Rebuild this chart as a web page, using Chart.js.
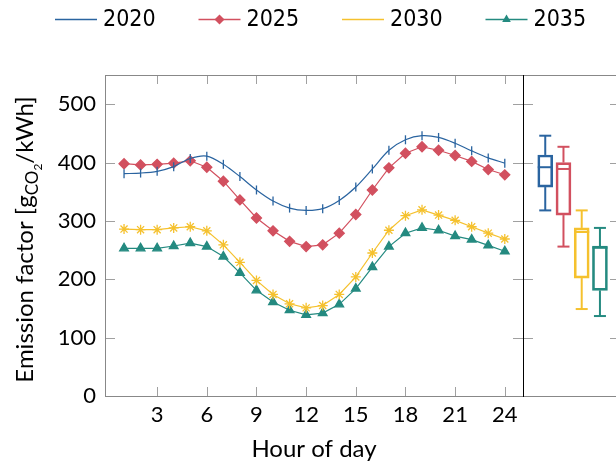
<!DOCTYPE html>
<html>
<head>
<meta charset="utf-8">
<script src="https://cdn.jsdelivr.net/npm/chart.js@4.4.1/dist/chart.umd.min.js"></script>
<style>
    html, body { margin: 0; padding: 0; background: #fff; overflow: hidden; }
    #wrap { position: relative; width: 616px; height: 464px; overflow: hidden; }
    #lineChart { position: absolute; left: 0; top: 0; }
    #boxChart { position: absolute; left: 523px; top: 0; }
</style>
</head>
<body>
<div id="wrap">
    <canvas id="lineChart" width="616" height="464"></canvas>
    <canvas id="boxChart" width="100" height="464"></canvas>
</div>
<script>
const hours = [1, 2, 3, 4, 5, 6, 7, 8, 9, 10, 11, 12, 13, 14, 15, 16, 17, 18, 19, 20, 21, 22, 23, 24];
const ef2020 = [381, 382, 385, 393, 407, 411, 397, 376, 353, 334, 322, 318, 321, 335, 358, 389, 421, 439, 446, 443, 433, 420, 408, 399];
const ef2025 = [398, 396, 397, 399, 403, 392, 368, 336, 305, 283, 265, 256, 259, 279, 311, 353, 391, 416, 427, 421, 412, 402, 388, 379];
const ef2030 = [286, 285, 285, 288, 290, 283, 259, 229, 198, 174, 158, 151, 155, 174, 204, 245, 284, 309, 319, 310, 301, 290, 279, 269];
const ef2035 = [253, 253, 253, 257, 262, 256, 239, 211, 181, 161, 147, 139, 142, 157, 184, 221, 256, 279, 288, 284, 274, 268, 258, 248];

const years = ["2020", "2025", "2030", "2035"];
const boxPos = [1, 2, 3, 4];
const boxMin = [318, 256, 149, 137];
const boxQ1 = [358, 310, 202, 181];
const boxMed = [392, 389, 281, 254];
const boxQ3 = [413, 400, 288, 257];
const boxMax = [446, 427, 318, 288];

const xTicks = [3, 6, 9, 12, 15, 18, 21, 24];
const yTicks = [0, 100, 200, 300, 400, 500];

const colors = ["#2a64a0", "#d2505f", "#f5c12e", "#248a80"];
const markers = [
    { pointStyle: "line", radius: 4.5, rotation: 90 },
    { pointStyle: "rectRot", radius: 5, rotation: 0 },
    { pointStyle: "star", radius: 5, rotation: 0 },
    { pointStyle: "triangle", radius: 5, rotation: 0 }
];
const FONT = "Lato";
const LEGEND_FONT = "'Liberation Sans Narrow', 'DejaVu Sans Condensed', Lato";

function series(i, values, tension) {
    return {
        label: years[i],
        data: hours.map((h, k) => ({ x: h, y: values[k] })),
        borderColor: colors[i],
        backgroundColor: colors[i],
        borderWidth: 1.2,
        tension: tension,
        pointStyle: markers[i].pointStyle,
        pointRadius: markers[i].radius,
        pointRotation: markers[i].rotation,
        pointBorderWidth: 1.3,
        pointBorderColor: colors[i],
        pointBackgroundColor: colors[i]
    };
}

function strokeLine(ctx, x1, y1, x2, y2) {
    ctx.beginPath();
    ctx.moveTo(x1, y1);
    ctx.lineTo(x2, y2);
    ctx.stroke();
}

// inward ticks and frame, pgfplots style
const frameLine = {
    id: "frameLine",
    afterDraw(chart) {
        const { ctx, chartArea, scales } = chart;
        const { left, right, top, bottom } = chartArea;
        const isBox = chart.canvas.id === "boxChart";
        ctx.save();
        ctx.lineWidth = 1;
        ctx.strokeStyle = "#a0a0a0";
        if (!isBox) {
            xTicks.forEach(v => {
                const px = Math.round(scales.x.getPixelForValue(v)) + 0.5;
                strokeLine(ctx, px, bottom, px, bottom - 9);
                strokeLine(ctx, px, top, px, top + 9);
            });
        }
        yTicks.forEach(v => {
            const py = Math.round(scales.y.getPixelForValue(v)) + 0.5;
            strokeLine(ctx, left, py, left + 10, py);
            strokeLine(ctx, right, py, right - 10, py);
        });
        ctx.strokeStyle = "#888888";
        strokeLine(ctx, left, top + 0.5, right, top + 0.5);
        strokeLine(ctx, left, bottom + 0.5, right, bottom + 0.5);
        if (isBox) {
            strokeLine(ctx, right - 0.5, top, right - 0.5, bottom);
            ctx.strokeStyle = "#000";
            strokeLine(ctx, left + 0.5, top, left + 0.5, bottom + 1);
        } else {
            strokeLine(ctx, left + 0.5, top, left + 0.5, bottom + 1);
            ctx.strokeStyle = "#000";
            strokeLine(ctx, right + 0.5, top, right + 0.5, bottom + 1);
        }
        ctx.restore();
    }
};

const legendAndTitles = {
    id: "legendAndTitles",
    afterDraw(chart) {
        const { ctx, chartArea } = chart;
        ctx.save();
        // legend
        years.forEach((yr, i) => {
            const x0 = 55 + 143.5 * i;
            const y0 = 19.5;
            ctx.strokeStyle = colors[i];
            ctx.lineWidth = 1.4;
            strokeLine(ctx, x0, y0, x0 + 42, y0);
            ctx.fillStyle = colors[i];
            ctx.lineWidth = 1.3;
            Chart.helpers.drawPoint(ctx, markers[i], x0 + 21, y0);
            ctx.fillStyle = "#000";
            ctx.font = "23px " + LEGEND_FONT;
            ctx.textBaseline = "middle";
            ctx.textAlign = "left";
            ctx.fillText(yr, x0 + 48, y0 + 1);
        });

        // x title
        ctx.fillStyle = "#000";
        ctx.font = "24px " + FONT;
        ctx.textAlign = "center";
        ctx.textBaseline = "alphabetic";
        ctx.fillText("Hour of day", (chartArea.left + chartArea.right) / 2, 457);

        // y title with subscript
        const parts = [
            { t: "Emission factor [g", size: 24, dy: 0 },
            { t: "CO", size: 17, dy: 5 },
            { t: "2", size: 12, dy: 9 },
            { t: "/kWh]", size: 24, dy: 0 }
        ];
        let total = 0;
        parts.forEach(p => {
            ctx.font = p.size + "px " + FONT;
            p.w = ctx.measureText(p.t).width;
            total += p.w;
        });
        ctx.translate(33, (chartArea.top + chartArea.bottom) / 2 + 4);
        ctx.rotate(-Math.PI / 2);
        ctx.textAlign = "left";
        let cx = -total / 2;
        parts.forEach(p => {
            ctx.font = p.size + "px " + FONT;
            ctx.fillText(p.t, cx, p.dy);
            cx += p.w;
        });
        ctx.restore();
    }
};

const whiskers = {
    id: "whiskers",
    afterDatasetsDraw(chart) {
        const { ctx, scales } = chart;
        ctx.save();
        ctx.lineWidth = 2;
        boxPos.forEach((p, i) => {
            const px = scales.x.getPixelForValue(p);
            const yMin = scales.y.getPixelForValue(boxMin[i]);
            const yQ1 = scales.y.getPixelForValue(boxQ1[i]);
            const yMed = scales.y.getPixelForValue(boxMed[i]);
            const yQ3 = scales.y.getPixelForValue(boxQ3[i]);
            const yMax = scales.y.getPixelForValue(boxMax[i]);
            ctx.strokeStyle = colors[i];
            strokeLine(ctx, px, yQ1, px, yMin);
            strokeLine(ctx, px, yQ3, px, yMax);
            strokeLine(ctx, px - 6, yMin, px + 6, yMin);
            strokeLine(ctx, px - 6, yMax, px + 6, yMax);
            strokeLine(ctx, px - 7.5, yMed, px + 7.5, yMed);
        });
        ctx.restore();
    }
};

const tickFont = { family: FONT, size: 22 };

new Chart(document.getElementById("lineChart"), {
    type: "line",
    data: {
        datasets: [
            series(0, ef2020, 0.3),
            series(1, ef2025, 0),
            series(2, ef2030, 0),
            series(3, ef2035, 0)
        ]
    },
    options: {
        responsive: false,
        animation: false,
        parsing: false,
        layout: { padding: { top: 75, right: 93, left: 0, bottom: 0 } },
        plugins: { legend: { display: false }, tooltip: { enabled: false } },
        scales: {
            x: {
                type: "linear",
                min: -0.15,
                max: 25.1,
                afterBuildTicks: s => { s.ticks = xTicks.map(v => ({ value: v })); },
                afterFit: s => { s.height = 68; },
                grid: { display: false, drawTicks: false },
                border: { display: false },
                ticks: { padding: 6, color: "#000", font: tickFont, maxRotation: 0, autoSkip: false }
            },
            y: {
                min: 0,
                max: 550,
                afterBuildTicks: s => { s.ticks = yTicks.map(v => ({ value: v })); },
                afterFit: s => { s.width = 105; },
                grid: { display: false, drawTicks: false },
                border: { display: false },
                ticks: { padding: 9, color: "#000", font: tickFont }
            }
        }
    },
    plugins: [frameLine, legendAndTitles]
});

new Chart(document.getElementById("boxChart"), {
    type: "bar",
    data: {
        datasets: [{
            data: boxPos.map((p, i) => ({ x: p, y: [boxQ1[i], boxQ3[i]] })),
            backgroundColor: "rgba(255,255,255,0)",
            borderColor: colors,
            borderWidth: 2,
            borderSkipped: false,
            barThickness: 15
        }]
    },
    options: {
        responsive: false,
        animation: false,
        layout: { padding: { top: 75, right: 3, left: 0, bottom: 68 } },
        plugins: { legend: { display: false }, tooltip: { enabled: false } },
        scales: {
            x: { type: "linear", min: -0.22, max: 5.1, offset: false, display: false },
            y: { min: 0, max: 550, display: false }
        }
    },
    plugins: [frameLine, whiskers]
});
</script>
</body>
</html>
